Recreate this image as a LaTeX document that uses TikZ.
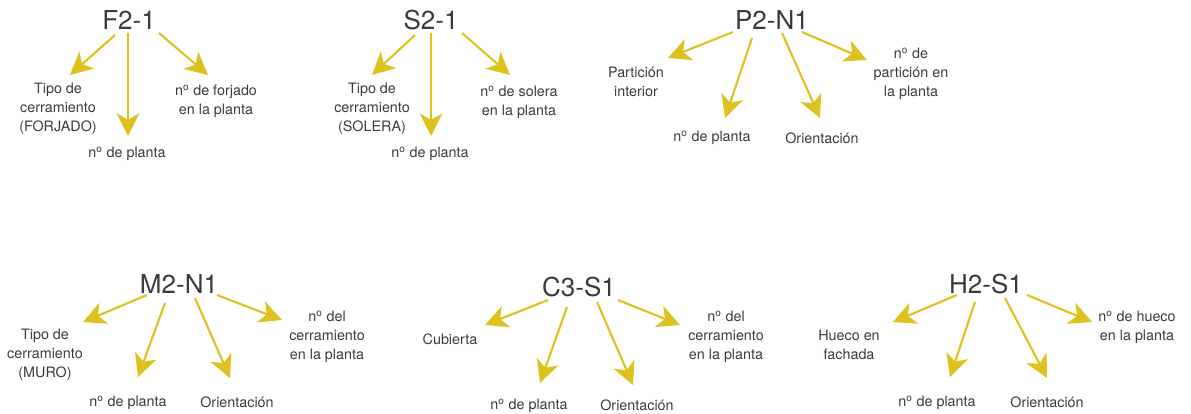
\documentclass[tikz,border=0pt]{standalone}
\usepackage{fontspec}
\setmainfont{TeX Gyre Heros}
\usepackage{tikz}
\usetikzlibrary{arrows.meta, calc}
\definecolor{ocre}{RGB}{221,194,30}
\definecolor{texto}{RGB}{58,58,58}
\tikzset{
  codigo/.style={text=texto, font=\fontsize{18.5}{20}\selectfont, inner sep=0pt},
  etiqueta/.style={text=texto, align=center, font=\fontsize{10.2}{13.5}\selectfont, inner sep=0pt},
  flecha/.style={draw=ocre, line width=1.5pt, -{Stealth[length=16pt, width=16pt, inset=4.5pt]}},
}
\newcommand{\nro}{n\textsuperscript{o}}

\begin{document}
\begin{tikzpicture}[x=0.025cm, y=-0.025cm]
  \useasboundingbox (0,0) rectangle (1191,414);

  % F2-1
  \node[codigo] (f21) at (129,20) {F2-1};
  \node[etiqueta] (f21-tipo) at (58,109) {Tipo de\\cerramiento\\(FORJADO)};
  \node[etiqueta] (f21-pl) at (127,154) {\nro{} de planta};
  \node[etiqueta] (f21-nf) at (216,101) {\nro{} de forjado\\en la planta};
  \coordinate (f21-a) at (70,75);
  \coordinate (f21-b) at (128,136);
  \coordinate (f21-c) at (208,75);
  \draw[flecha] ($(f21)+(-14,15)$) -- (f21-a);
  \draw[flecha] ($(f21)+(-1,13)$) -- (f21-b);
  \draw[flecha] ($(f21)+(30,13)$) -- (f21-c);

  % S2-1
  \node[codigo] (s21) at (431,20) {S2-1};
  \node[etiqueta] (s21-tipo) at (372,109) {Tipo de\\cerramiento\\(SOLERA)};
  \node[etiqueta] (s21-pl) at (430,154) {\nro{} de planta};
  \node[etiqueta] (s21-ns) at (519,102) {\nro{} de solera\\en la planta};
  \coordinate (s21-a) at (372,75);
  \coordinate (s21-b) at (431,136);
  \coordinate (s21-c) at (510,75);
  \draw[flecha] ($(s21)+(-16,15)$) -- (s21-a);
  \draw[flecha] ($(s21)+(0,13)$) -- (s21-b);
  \draw[flecha] ($(s21)+(31,13)$) -- (s21-c);

  % P2-N1
  \node[codigo] (p2n1) at (772,20) {P2-N1};
  \node[etiqueta] (p2n1-part) at (636,82) {Partición\\interior};
  \node[etiqueta] (p2n1-pl) at (712,138) {\nro{} de planta};
  \node[etiqueta] (p2n1-or) at (822,138) {Orientación};
  \node[etiqueta] (p2n1-np) at (911,74) {\nro{} de\\partición en\\la planta};
  \coordinate (p2n1-a) at (668,58);
  \coordinate (p2n1-b) at (725,118);
  \coordinate (p2n1-c) at (820,118);
  \coordinate (p2n1-d) at (867,60);
  \draw[flecha] ($(p2n1)+(-39,12)$) -- (p2n1-a);
  \draw[flecha] ($(p2n1)+(-20,18)$) -- (p2n1-b);
  \draw[flecha] ($(p2n1)+(10,13)$) -- (p2n1-c);
  \draw[flecha] ($(p2n1)+(30,12)$) -- (p2n1-d);

  % M2-N1
  \node[codigo] (m2n1) at (179,284) {M2-N1};
  \node[etiqueta] (m2n1-tipo) at (45,355) {Tipo de\\cerramiento\\(MURO)};
  \node[etiqueta] (m2n1-pl) at (128,403) {\nro{} de planta};
  \node[etiqueta] (m2n1-or) at (237,402) {Orientación};
  \node[etiqueta] (m2n1-nd) at (327,337) {\nro{} del\\cerramiento\\en la planta};
  \coordinate (m2n1-a) at (83,322);
  \coordinate (m2n1-b) at (138,377);
  \coordinate (m2n1-c) at (230,378);
  \coordinate (m2n1-d) at (282,320);
  \draw[flecha] ($(m2n1)+(-32,11)$) -- (m2n1-a);
  \draw[flecha] ($(m2n1)+(-14,19)$) -- (m2n1-b);
  \draw[flecha] ($(m2n1)+(16,14)$) -- (m2n1-c);
  \draw[flecha] ($(m2n1)+(38,11)$) -- (m2n1-d);

  % C3-S1
  \node[codigo] (c3s1) at (579,287) {C3-S1};
  \node[etiqueta] (c3s1-cub) at (450,339) {Cubierta};
  \node[etiqueta] (c3s1-pl) at (529,406) {\nro{} de planta};
  \node[etiqueta] (c3s1-or) at (637,405) {Orientación};
  \node[etiqueta] (c3s1-nd) at (726,337) {\nro{} del\\cerramiento\\en la planta};
  \coordinate (c3s1-a) at (485,325);
  \coordinate (c3s1-b) at (540,383);
  \coordinate (c3s1-c) at (633,385);
  \coordinate (c3s1-d) at (680,325);
  \draw[flecha] ($(c3s1)+(-31,13)$) -- (c3s1-a);
  \draw[flecha] ($(c3s1)+(-12,20)$) -- (c3s1-b);
  \draw[flecha] ($(c3s1)+(18,15)$) -- (c3s1-c);
  \draw[flecha] ($(c3s1)+(39,13)$) -- (c3s1-d);

  % H2-S1
  \node[codigo] (h2s1) at (986,284) {H2-S1};
  \node[etiqueta] (h2s1-hf) at (849,345) {Hueco en\\fachada};
  \node[etiqueta] (h2s1-pl) at (937,403) {\nro{} de planta};
  \node[etiqueta] (h2s1-or) at (1047,402) {Orientación};
  \node[etiqueta] (h2s1-nh) at (1137,327) {\nro{} de hueco\\en la planta};
  \coordinate (h2s1-a) at (893,322);
  \coordinate (h2s1-b) at (950,377);
  \coordinate (h2s1-c) at (1047,378);
  \coordinate (h2s1-d) at (1092,322);
  \draw[flecha] ($(h2s1)+(-29,11)$) -- (h2s1-a);
  \draw[flecha] ($(h2s1)+(-11,18)$) -- (h2s1-b);
  \draw[flecha] ($(h2s1)+(19,14)$) -- (h2s1-c);
  \draw[flecha] ($(h2s1)+(41,11)$) -- (h2s1-d);
\end{tikzpicture}
\end{document}
